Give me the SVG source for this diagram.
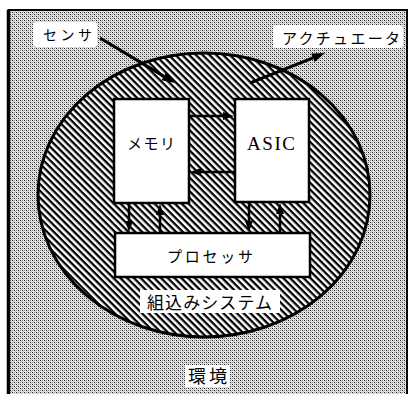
<svg xmlns="http://www.w3.org/2000/svg" width="413" height="394" viewBox="0 0 413 394">
<defs>
<pattern id="dots" patternUnits="userSpaceOnUse" width="4" height="4">
<rect width="4" height="4" fill="#e6e6e6"/>
<rect x="0" y="0" width="1" height="1" fill="#222"/>
<rect x="2" y="2" width="1" height="1" fill="#222"/>
<rect x="2" y="0" width="1" height="1" fill="#888"/>
<rect x="0" y="2" width="1" height="1" fill="#888"/>
<rect x="1" y="1" width="1" height="1" fill="#bbb"/>
<rect x="3" y="3" width="1" height="1" fill="#bbb"/>
</pattern>
<pattern id="hatch" patternUnits="userSpaceOnUse" width="4.8" height="4.8" patternTransform="rotate(45)">
<rect width="4.8" height="4.8" fill="#fff"/>
<rect x="0" y="0" width="4.8" height="2.3" fill="#000"/>
</pattern>
</defs>
<style>
.jp{font-family:"Noto Sans CJK JP","Noto Sans",sans-serif;fill:#000;}
.en{font-family:"Liberation Serif",serif;fill:#000;}
.box{fill:#fff;stroke:#000;stroke-width:2.5;}
.lbl{fill:#fff;}
.ln{stroke:#000;fill:none;}
.hd{fill:#000;stroke:none;}
</style>
<g id="environment">
<rect x="8.5" y="10" width="398" height="400" fill="url(#dots)"/>
<path d="M8.5,400 V10 H407 V400" fill="none" stroke="#000" stroke-width="2"/>
<line x1="8.5" y1="10" x2="8.5" y2="394" stroke="#000" stroke-width="3.5"/>
<rect class="lbl" x="185" y="365" width="45" height="22"/>
<text class="jp" x="188" y="383" font-size="18" textLength="39" lengthAdjust="spacing">環境</text>
</g>
<g id="embedded-system">
<ellipse cx="204" cy="195" rx="166" ry="142" fill="url(#hatch)" stroke="#000" stroke-width="3"/>
<rect class="lbl" x="140" y="290" width="140" height="23"/>
<text class="jp" x="147" y="309" font-size="17" textLength="125" lengthAdjust="spacing">組込みシステム</text>
</g>
<g id="memory">
<rect class="box" x="114" y="99" width="75" height="104"/>
<text class="jp" x="127" y="149" font-size="15" textLength="48" lengthAdjust="spacing">メモリ</text>
</g>
<g id="asic">
<rect class="box" x="235" y="99" width="74" height="103"/>
<text class="en" x="247" y="150" font-size="19" textLength="48" lengthAdjust="spacing">ASIC</text>
</g>
<g id="processor">
<rect class="box" x="115" y="233" width="195" height="44"/>
<text class="jp" x="167" y="262" font-size="15" textLength="86" lengthAdjust="spacing">プロセッサ</text>
</g>
<g id="sensor">
<rect class="lbl" x="33" y="22" width="64" height="25" rx="3"/>
<text class="jp" x="43" y="40" font-size="14" textLength="49" lengthAdjust="spacing">センサ</text>
</g>
<g id="actuator">
<rect class="lbl" x="273" y="25" width="130" height="23" rx="3"/>
<text class="jp" x="282" y="44" font-size="15" textLength="118" lengthAdjust="spacing">アクチュエータ</text>
</g>
<g id="connectors">
<line class="ln" x1="100" y1="38" x2="164" y2="76.4" stroke-width="3"/>
<path class="hd" d="M175,83 L161.5,80.2 L166.2,72.4 Z"/>
<line class="ln" x1="250" y1="83" x2="313" y2="57.8" stroke-width="3"/>
<path class="hd" d="M325,53 L314.6,62 L311.3,53.6 Z"/>
<line class="ln" x1="190" y1="116" x2="225" y2="116" stroke-width="2.5"/>
<path class="hd" d="M234,116 L223,112 L223,120 Z"/>
<line class="ln" x1="234" y1="172" x2="199" y2="172" stroke-width="2.5"/>
<path class="hd" d="M190,172 L201,168 L201,176 Z"/>
<line class="ln" x1="129" y1="204" x2="129" y2="223" stroke-width="2.5"/>
<path class="hd" d="M129,232 L125,221 L133,221 Z"/>
<line class="ln" x1="160" y1="232" x2="160" y2="213" stroke-width="2.5"/>
<path class="hd" d="M160,204 L156,215 L164,215 Z"/>
<line class="ln" x1="249" y1="203" x2="249" y2="223" stroke-width="2.5"/>
<path class="hd" d="M249,232 L245,221 L253,221 Z"/>
<line class="ln" x1="280" y1="232" x2="280" y2="212" stroke-width="2.5"/>
<path class="hd" d="M280,203 L276,214 L284,214 Z"/>
</g>
</svg>
